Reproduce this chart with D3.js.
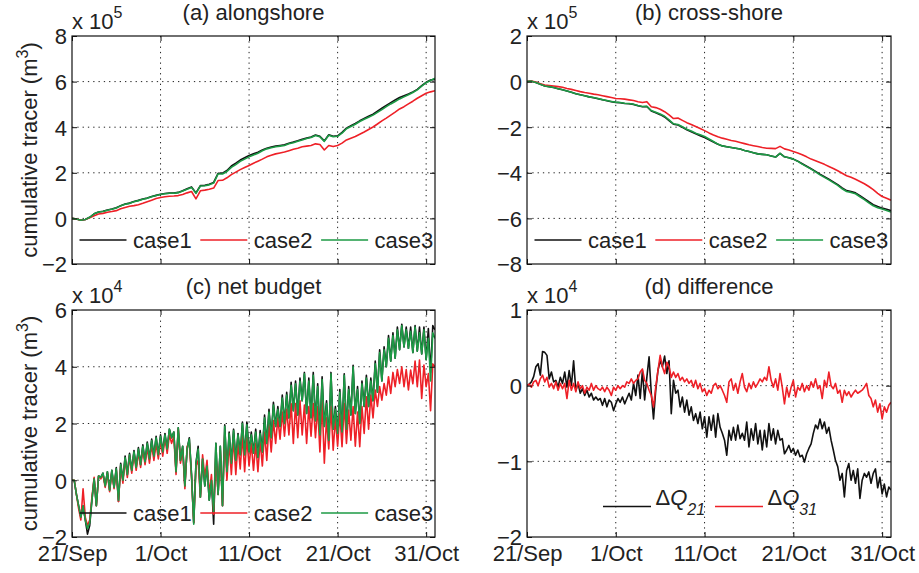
<!DOCTYPE html>
<html>
<head>
<meta charset="utf-8">
<script src="https://cdn.jsdelivr.net/npm/d3@7"></script>
<style>
  body { margin: 0; background: #fff; }
  svg { display: block; font-family: "Liberation Sans", Arial, Helvetica, sans-serif; }
</style>
</head>
<body>
<div id="container"></div>
<script>
const startDay = Date.UTC(2010, 8, 21);
const endDay = Date.UTC(2010, 10, 1);
const xTickDays = [0, 10, 20, 30, 40];

// (a) alongshore, units of 1e5 m3, one value every half day from 21/Sep
const stepAB = 0.5;
const along1 = [
  0, -0.03, -0.08, -0.05, 0.05, 0.2, 0.28, 0.31, 0.37, 0.41,
  0.47, 0.56, 0.63, 0.67, 0.74, 0.79, 0.85, 0.89, 0.96, 1.01,
  1.06, 1.09, 1.11, 1.11, 1.14, 1.21, 1.3, 1.38, 1.12, 1.44,
  1.45, 1.5, 1.58, 1.98, 1.98, 2.1, 2.3, 2.42, 2.56, 2.66,
  2.76, 2.83, 2.9, 3.0, 3.08, 3.13, 3.17, 3.2, 3.23, 3.3,
  3.35, 3.41, 3.47, 3.52, 3.57, 3.66, 3.6, 3.4, 3.67, 3.6,
  3.62, 3.77, 3.96, 4.06, 4.16, 4.28, 4.38, 4.48, 4.57, 4.7,
  4.83, 4.96, 5.08, 5.19, 5.3, 5.38, 5.46, 5.55, 5.66, 5.82,
  5.97, 6.07, 6.1
];
const along2 = [
  0, -0.03, -0.08, -0.05, 0.03, 0.12, 0.19, 0.22, 0.27, 0.3,
  0.34, 0.42, 0.48, 0.53, 0.56, 0.6, 0.66, 0.73, 0.8, 0.87,
  0.92, 0.95, 0.97, 0.98, 1.0, 1.05, 1.12, 1.18, 0.86, 1.21,
  1.24, 1.28, 1.33, 1.66, 1.67, 1.78, 1.92, 2.03, 2.14, 2.23,
  2.32, 2.42, 2.51, 2.6, 2.7, 2.77, 2.83, 2.87, 2.91, 2.97,
  3.03, 3.08, 3.14, 3.17, 3.2, 3.27, 3.24, 3.0, 3.2, 3.15,
  3.2, 3.3, 3.44, 3.52, 3.59, 3.69, 3.79, 3.9, 4.01, 4.14,
  4.28, 4.4, 4.53, 4.66, 4.8, 4.9, 5.02, 5.14, 5.27, 5.38,
  5.49, 5.55, 5.6
];
const along3 = [
  0, -0.03, -0.08, -0.05, 0.05, 0.2, 0.28, 0.3, 0.36, 0.4,
  0.46, 0.55, 0.62, 0.66, 0.73, 0.78, 0.84, 0.88, 0.95, 1.0,
  1.05, 1.08, 1.1, 1.1, 1.13, 1.2, 1.28, 1.36, 1.1, 1.42,
  1.43, 1.47, 1.55, 1.95, 1.95, 2.06, 2.24, 2.36, 2.5, 2.6,
  2.7, 2.78, 2.86, 2.97, 3.05, 3.1, 3.14, 3.17, 3.2, 3.27,
  3.32, 3.38, 3.44, 3.5, 3.55, 3.64, 3.58, 3.38, 3.65, 3.58,
  3.6, 3.74, 3.93, 4.03, 4.13, 4.25, 4.35, 4.44, 4.53, 4.65,
  4.77, 4.9, 5.02, 5.13, 5.24, 5.33, 5.42, 5.52, 5.64, 5.8,
  5.95, 6.05, 6.15
];

// (b) cross-shore, units of 1e5 m3
const cross1 = [
  0, 0.02, -0.04, -0.12, -0.19, -0.22, -0.26, -0.31, -0.36, -0.41,
  -0.47, -0.53, -0.58, -0.62, -0.67, -0.71, -0.75, -0.8, -0.84, -0.88,
  -0.91, -0.93, -0.96, -0.97, -1.0, -1.06, -1.1, -1.09, -1.29, -1.37,
  -1.45, -1.55, -1.71, -1.87, -1.9, -2.0, -2.11, -2.2, -2.29, -2.37,
  -2.45, -2.55, -2.65, -2.75, -2.82, -2.86, -2.89, -2.92, -2.96, -3.02,
  -3.07, -3.12, -3.17, -3.19, -3.21, -3.26, -3.31, -3.15, -3.3, -3.34,
  -3.4, -3.49, -3.6, -3.71, -3.82, -3.94, -4.06, -4.17, -4.28, -4.4,
  -4.52, -4.66, -4.78, -4.82, -4.88, -5.0, -5.13, -5.27, -5.4, -5.48,
  -5.55, -5.6, -5.66
];
const cross2 = [
  0, 0.02, -0.02, -0.09, -0.15, -0.17, -0.19, -0.22, -0.25, -0.3,
  -0.34, -0.39, -0.44, -0.48, -0.51, -0.55, -0.58, -0.62, -0.66, -0.7,
  -0.74, -0.75, -0.77, -0.8, -0.83, -0.88, -0.92, -0.88, -1.1, -1.14,
  -1.21, -1.32, -1.46, -1.62, -1.6, -1.7, -1.8, -1.88, -1.97, -2.06,
  -2.15, -2.25, -2.34, -2.42, -2.48, -2.53, -2.58, -2.62, -2.67, -2.72,
  -2.77, -2.81, -2.85, -2.89, -2.92, -2.93, -2.94, -2.84, -2.95, -3.0,
  -3.07, -3.13, -3.21, -3.3, -3.4, -3.47, -3.55, -3.63, -3.72, -3.81,
  -3.91, -4.02, -4.13, -4.2, -4.28, -4.38, -4.48, -4.6, -4.74, -4.9,
  -5.04, -5.12, -5.2
];
const cross3 = [
  0, 0.02, -0.04, -0.12, -0.19, -0.22, -0.26, -0.31, -0.36, -0.41,
  -0.47, -0.53, -0.58, -0.62, -0.67, -0.7, -0.74, -0.79, -0.83, -0.87,
  -0.9, -0.92, -0.95, -0.96, -0.99, -1.05, -1.09, -1.08, -1.27, -1.34,
  -1.42, -1.52, -1.68, -1.85, -1.88, -1.98, -2.09, -2.17, -2.26, -2.33,
  -2.41, -2.52, -2.63, -2.74, -2.82, -2.86, -2.89, -2.92, -2.96, -3.02,
  -3.07, -3.12, -3.17, -3.19, -3.21, -3.26, -3.31, -3.15, -3.3, -3.34,
  -3.4, -3.5, -3.62, -3.73, -3.84, -3.96, -4.09, -4.2, -4.31, -4.43,
  -4.55, -4.7, -4.82, -4.86, -4.92, -5.05, -5.18, -5.32, -5.45, -5.53,
  -5.59, -5.65, -5.72
];

// (c) net budget, units of 1e4 m3, one value every quarter day (one row per day)
const stepCD = 0.25;
const net1 = [
  0, 0, -0.5, -0.9,   -1.3, -0.9, -1.4, -1.9,   -1.6, -0.7, 0.05, -0.9,
  0.15, 0.1, 0.25, -0.2,   0.3, -0.35, 0.35, -0.25,   0.45, -0.75, 0.6, 0.0,
  0.85, 0.2, 0.95, 0.35,   1.05, 0.45, 1.15, 0.55,   1.25, 0.65, 1.35, 0.75,
  1.45, 0.85, 1.55, 0.9,   1.6, 1.0, 1.65, 1.1,   1.8, 1.5, 1.7, 0.3,
  1.85, 0.7, 1.2, -0.2,   1.1, 1.5, 0.2, -1.5,   0.6, 1.2, -0.6, 0.75,
  -0.2, 0.5, -0.7, 0.0,   -1.55, 1.3, -0.5, 1.2,   -0.9, 1.95, 0.3, 1.7,
  0.6, 1.8, 0.7, 1.65,   0.9, 2.05, 0.9, 2.05,   1.0, 1.7, 0.95, 1.8,
  0.8, 1.75, 1.0, 2.3,   1.3, 2.5, 1.5, 2.75,   1.9, 2.6, 1.9, 3.0,
  2.0, 3.1, 2.2, 3.45,   2.45, 3.5, 2.3, 3.6,   2.8, 3.8, 2.35, 3.6,
  2.2, 3.8, 2.1, 3.4,   1.6, 3.65, 1.9, 2.8,   1.4, 3.8, 1.8, 2.6,
  1.65, 3.2, 1.7, 3.75,   1.8, 3.3, 2.3, 4.05,   2.35, 3.3, 2.0, 3.5,
  2.6, 3.7, 2.6, 3.6,   2.8, 4.2, 3.1, 4.6,   3.5, 4.7, 4.0, 5.1,
  4.2, 5.2, 4.3, 5.4,   4.6, 5.5, 4.7, 5.4,   4.65, 5.4, 4.5, 5.45,
  4.55, 5.4, 4.45, 5.4,   4.25, 5.35, 3.8, 5.45,   5.3
];
const net2 = [
  0, 0, -0.5, -1.0,   -1.4, -0.3, -1.3, -1.6,   -1.4, -0.6, 0.1, -0.9,
  0.15, 0.05, 0.2, -0.25,   0.25, -0.4, 0.3, -0.3,   0.35, -0.75, 0.5, -0.1,
  0.75, 0.1, 0.85, 0.25,   0.95, 0.35, 1.0, 0.45,   1.1, 0.55, 1.15, 0.6,
  1.25, 0.7, 1.3, 0.75,   1.4, 0.85, 1.5, 0.95,   1.6, 1.3, 1.55, 0.2,
  1.8, 0.6, 1.1, -0.3,   1.2, 1.3, 0.1, -1.5,   0.5, 0.7, -0.6, 0.9,
  0.1, 0.7, -0.5, 0.2,   -1.2, 0.9, -0.5, 1.05,   -0.9, 1.6, 0.0, 1.35,
  0.2, 1.5, 0.2, 1.3,   0.4, 1.6, 0.3, 1.5,   0.5, 1.3, 0.35, 1.3,
  0.3, 1.4, 0.5, 1.7,   0.7, 1.95, 1.0, 2.1,   1.3, 2.2, 1.45, 2.4,
  1.55, 2.5, 1.6, 2.7,   1.3, 2.7, 1.5, 2.8,   1.6, 2.65, 1.3, 2.6,
  1.55, 2.7, 1.5, 2.6,   1.0, 2.8, 0.6, 2.2,   1.1, 2.6, 1.06, 2.2,
  1.2, 2.35, 1.18, 2.7,   1.3, 2.47, 1.41, 2.6,   1.2, 2.4, 1.18, 2.6,
  1.65, 2.94, 1.8, 3.0,   2.2, 3.18, 2.6, 3.3,   2.82, 3.41, 3.0, 3.65,
  3.06, 3.8, 3.3, 3.9,   3.41, 4.0, 3.3, 3.9,   3.18, 3.88, 3.4, 4.2,
  3.3, 4.24, 2.88, 4.06,   3.3, 3.76, 2.45, 4.1,   4.0
];
const net3 = [
  0, 0, -0.5, -0.9,   -1.3, -0.9, -1.4, -1.7,   -1.5, -0.7, 0.05, -0.9,
  0.15, 0.1, 0.25, -0.2,   0.3, -0.35, 0.35, -0.25,   0.4, -0.7, 0.55, 0.0,
  0.8, 0.2, 0.9, 0.35,   1.0, 0.45, 1.1, 0.55,   1.2, 0.65, 1.3, 0.75,
  1.4, 0.85, 1.5, 0.9,   1.55, 1.0, 1.6, 1.1,   1.8, 1.5, 1.7, 0.3,
  1.85, 0.7, 1.2, -0.2,   1.1, 1.45, 0.2, -1.55,   0.6, 1.1, -0.6, 0.75,
  -0.2, 0.5, -0.7, 0.0,   -1.1, 1.3, -0.5, 1.2,   -0.9, 1.9, 0.3, 1.65,
  0.6, 1.75, 0.7, 1.6,   0.9, 2.0, 0.9, 1.95,   1.0, 1.6, 0.95, 1.7,
  0.8, 1.65, 1.0, 2.2,   1.3, 2.4, 1.5, 2.65,   1.9, 2.5, 1.9, 2.9,
  2.0, 3.0, 2.2, 3.35,   2.45, 3.4, 2.3, 3.5,   2.8, 3.75, 2.35, 3.5,
  2.2, 3.7, 2.1, 3.3,   1.6, 3.55, 1.9, 2.7,   1.4, 3.75, 1.8, 2.5,
  1.65, 3.1, 1.7, 3.7,   1.8, 3.2, 2.3, 4.0,   2.35, 3.2, 2.0, 3.4,
  2.6, 3.6, 2.6, 3.5,   2.8, 4.1, 3.1, 4.5,   3.5, 4.6, 4.0, 5.0,
  4.2, 5.1, 4.3, 5.3,   4.6, 5.45, 4.7, 5.3,   4.65, 5.25, 4.5, 5.4,
  4.55, 5.2, 4.45, 5.3,   4.25, 5.0, 3.5, 5.2,   5.0
];

// (d) difference, units of 1e4 m3
const dQ21 = [
  0, 0.02, 0.05, 0.12,   0.25, 0.29, 0.14, 0.45,   0.44, 0.4, 0.09, 0.18,
  0.05, 0.07, -0.02, 0.11,   0.03, 0.18, -0.02, 0.2,   0.0, 0.33, -0.06, 0.03,
  -0.1, -0.04, -0.13, -0.06,   -0.15, -0.1, -0.19, -0.15,   -0.19, -0.17, -0.26, -0.17,
  -0.28, -0.19, -0.22, -0.33,   -0.24, -0.17, -0.22, -0.15,   -0.24, -0.17, -0.1, -0.19,
  0.03, -0.13, 0.14, -0.17,   0.2, -0.19, 0.11, 0.38,   -0.1, -0.44, -0.06, 0.2,
  0.33, 0.25, 0.39, 0.16,   0.33, -0.37, 0.07, -0.1,   -0.06, -0.28, -0.15, -0.35,
  -0.19, -0.39, -0.28, -0.46,   -0.37, -0.5, -0.35, -0.57,   -0.41, -0.68, -0.41, -0.59,
  -0.39, -0.68, -0.37, -0.55,   -0.63, -0.72, -0.92, -0.59,   -0.72, -0.55, -0.72, -0.52,
  -0.7, -0.63, -0.72, -0.48,   -0.81, -0.57, -0.72, -0.5,   -0.77, -0.59, -0.85, -0.59,
  -0.81, -0.5, -0.72, -0.57,   -0.77, -0.59, -0.72, -0.7,   -0.9, -0.85, -0.79, -0.88,
  -0.83, -0.92, -0.85, -0.94,   -0.92, -1.01, -0.9, -0.83,   -0.77, -0.63, -0.52, -0.57,
  -0.44, -0.57, -0.48, -0.63,   -0.55, -0.72, -0.85, -0.99,   -1.07, -1.25, -1.16, -1.47,
  -1.12, -1.03, -1.25, -1.12,   -1.29, -1.1, -1.49, -1.25,   -1.16, -1.21, -1.14, -1.29,
  -1.16, -1.1, -1.35, -1.21,   -1.43, -1.3, -1.47, -1.34,   -1.38
];
const dQ31 = [
  0, 0.02, -0.02, 0.05,   0.07, 0, 0.09, 0.14,   0.05, 0.11, -0.02, 0.03,
  -0.04, 0.05, -0.06, 0.03,   -0.04, 0.03, -0.17, 0.07,   -0.06, 0.03, -0.08, 0.05,
  -0.04, 0, -0.1, -0.02,   -0.06, 0.03, -0.06, 0,   -0.04, -0.06, -0.02, -0.08,
  -0.02, -0.06, -0.13, -0.02,   -0.06, 0, -0.04, 0,   -0.02, 0.05, 0.03, 0.09,
  0.03, 0.07, 0.09, 0.18,   0.22, 0.07, 0.03, -0.06,   -0.13, -0.28, -0.02, 0.2,
  0.4, 0.25, 0.16, 0.31,   0.25, 0.11, 0.18, 0.11,   0.16, 0.07, 0.11, 0.05,
  0.09, 0.03, 0.07, -0.02,   0.07, -0.04, 0.03, -0.08,   -0.04, -0.13, -0.06, -0.1,
  0, 0.03, -0.04, 0,   -0.06, -0.13, -0.22, 0.05,   0.09, -0.06, 0.03, -0.1,
  0.05, 0.16, -0.02, -0.08,   0.03, -0.04, 0.05, -0.02,   0.03, 0.09, 0.05, 0.11,
  0.07, 0.25, 0.07, -0.02,   0.09, -0.06, 0.16, -0.02,   -0.24, -0.02, -0.15, -0.02,
  0.07, -0.15, -0.02, -0.06,   0.03, -0.08, 0, -0.06,   0.05, -0.02, 0.09, -0.04,
  0, -0.17, 0.07, -0.02,   0.18, 0, -0.04, 0.03,   -0.1, -0.06, -0.22, -0.06,
  -0.13, -0.08, -0.15, -0.1,   -0.06, -0.1, -0.08, -0.06,   -0.02, 0.03, -0.13, -0.17,
  -0.28, -0.19, -0.35, -0.24,   -0.44, -0.28, -0.35, -0.26,   -0.22
];

const black = '#111111', red = '#ee2027', green = '#1c9a45';

const panels = [
  { left: 72, right: 435, top: 36, bottom: 264, yDomain: [-2, 8], yTicks: [-2, 0, 2, 4, 6, 8],
    title: '(a) alongshore', exp: '5', ylabel: true, xlabels: false, step: stepAB,
    series: [[along1, black], [along2, red], [along3, green]], legend: 'cases' },
  { left: 527, right: 891, top: 36, bottom: 264, yDomain: [-8, 2], yTicks: [-8, -6, -4, -2, 0, 2],
    title: '(b) cross-shore', exp: '5', ylabel: false, xlabels: false, step: stepAB,
    series: [[cross1, black], [cross2, red], [cross3, green]], legend: 'cases' },
  { left: 72, right: 435, top: 310, bottom: 537, yDomain: [-2, 6], yTicks: [-2, 0, 2, 4, 6],
    title: '(c) net budget', exp: '4', ylabel: true, xlabels: true, step: stepCD,
    series: [[net1, black], [net2, red], [net3, green]], legend: 'cases' },
  { left: 527, right: 891, top: 310, bottom: 537, yDomain: [-2, 1], yTicks: [-2, -1, 0, 1],
    title: '(d) difference', exp: '4', ylabel: false, xlabels: true, step: stepCD,
    series: [[dQ21, black], [dQ31, red]], legend: 'dq' }
];

const svg = d3.select('#container')
  .append('svg')
  .attr('width', 919)
  .attr('height', 573);

const dayMs = 864e5;
const fontSize = 22;
const supSize = 16;

panels.forEach((p, pi) => {
  const x = d3.scaleUtc()
    .domain([new Date(startDay), new Date(endDay)])
    .range([p.left, p.right]);
  const y = d3.scaleLinear().domain(p.yDomain).range([p.bottom, p.top]);
  const g = svg.append('g');

  // clip for the data lines
  g.append('clipPath').attr('id', 'clip' + pi)
    .append('rect')
    .attr('x', p.left).attr('y', p.top)
    .attr('width', p.right - p.left).attr('height', p.bottom - p.top);

  // dotted grid
  const tickDates = xTickDays.map(d => new Date(startDay + d * dayMs));
  g.selectAll('.vgrid')
    .data(tickDates.slice(1))
    .enter().append('line')
    .attr('x1', d => x(d)).attr('x2', d => x(d))
    .attr('y1', p.top).attr('y2', p.bottom)
    .attr('stroke', '#222').attr('stroke-width', 1)
    .attr('stroke-dasharray', '1.3,4');
  g.selectAll('.hgrid')
    .data(p.yTicks.filter(v => v !== p.yDomain[0] && v !== p.yDomain[1]))
    .enter().append('line')
    .attr('x1', p.left).attr('x2', p.right)
    .attr('y1', d => y(d)).attr('y2', d => y(d))
    .attr('stroke', '#222').attr('stroke-width', 1)
    .attr('stroke-dasharray', '1.3,4');

  // data lines
  const line = d3.line()
    .x((d, i) => x(new Date(startDay + i * p.step * dayMs)))
    .y(d => y(d));
  const lg = g.append('g').attr('clip-path', `url(#clip${pi})`);
  p.series.forEach(([vals, col]) => {
    lg.append('path')
      .attr('d', line(vals))
      .attr('fill', 'none')
      .attr('stroke', col)
      .attr('stroke-width', 1.6)
      .attr('stroke-linejoin', 'round');
  });

  // axes with inward ticks
  const fmt = d3.utcFormat('%-d/%b');
  const xb = g.append('g')
    .attr('transform', `translate(0,${p.bottom})`)
    .call(d3.axisBottom(x).tickValues(tickDates).tickSize(-5).tickSizeOuter(0).tickPadding(9)
      .tickFormat(p.xlabels ? fmt : () => ''));
  g.append('g')
    .attr('transform', `translate(0,${p.top})`)
    .call(d3.axisTop(x).tickValues(tickDates).tickSize(-5).tickSizeOuter(0).tickFormat(() => ''));
  const yl = g.append('g')
    .attr('transform', `translate(${p.left},0)`)
    .call(d3.axisLeft(y).tickValues(p.yTicks).tickSize(-5).tickSizeOuter(0).tickPadding(5)
      .tickFormat(d3.format('d')));
  g.append('g')
    .attr('transform', `translate(${p.right},0)`)
    .call(d3.axisRight(y).tickValues(p.yTicks).tickSize(-5).tickSizeOuter(0).tickFormat(() => ''));

  g.selectAll('.domain').remove();
  g.selectAll('.tick line').attr('stroke', '#111');
  g.selectAll('.tick text')
    .attr('font-family', '"Liberation Sans", Arial, sans-serif')
    .attr('font-size', fontSize)
    .attr('fill', '#222');
  yl.selectAll('.tick text').attr('dy', '0.36em');
  xb.selectAll('.tick text').attr('dy', '0.68em');

  // frame
  g.append('rect')
    .attr('x', p.left).attr('y', p.top)
    .attr('width', p.right - p.left).attr('height', p.bottom - p.top)
    .attr('fill', 'none').attr('stroke', '#111').attr('stroke-width', 1.2);

  // title
  g.append('text')
    .attr('x', (p.left + p.right) / 2)
    .attr('y', p.top - 16.5)
    .attr('text-anchor', 'middle')
    .attr('font-size', fontSize)
    .attr('fill', '#222')
    .text(p.title);

  // exponent label
  const ex = g.append('text')
    .attr('x', p.left)
    .attr('y', p.top - 7.5)
    .attr('font-size', fontSize)
    .attr('fill', '#222');
  ex.append('tspan').text('x 10');
  ex.append('tspan').attr('font-size', supSize).attr('dy', -11).text(p.exp);

  // y label
  if (p.ylabel) {
    const t = g.append('text')
      .attr('transform', `translate(37,${(p.top + p.bottom) / 2}) rotate(-90)`)
      .attr('text-anchor', 'middle')
      .attr('font-size', fontSize)
      .attr('fill', '#222');
    t.append('tspan').text('cumulative tracer (m');
    t.append('tspan').attr('font-size', supSize).attr('dy', -9).text('3');
    t.append('tspan').attr('dy', 9).text(')');
  }

  // legend (no box)
  if (p.legend === 'cases') {
    const names = ['case1', 'case2', 'case3'];
    const ly = p.bottom - 24;
    p.series.forEach(([, col], i) => {
      const lx = p.left + 7.5 + i * 120.8;
      g.append('line')
        .attr('x1', lx).attr('x2', lx + 47)
        .attr('y1', ly).attr('y2', ly)
        .attr('stroke', col).attr('stroke-width', 1.6);
      g.append('text')
        .attr('x', lx + 53.5).attr('y', ly + 8)
        .attr('font-size', fontSize).attr('fill', '#222')
        .text(names[i]);
    });
  } else {
    const subs = ['21', '31'];
    const ly = p.bottom - 30.5;
    p.series.forEach(([, col], i) => {
      const lx = p.left + 76 + i * 112;
      g.append('line')
        .attr('x1', lx).attr('x2', lx + 48)
        .attr('y1', ly).attr('y2', ly)
        .attr('stroke', col).attr('stroke-width', 1.6);
      const t = g.append('text')
        .attr('x', lx + 52.5).attr('y', ly - 2)
        .attr('font-size', fontSize).attr('fill', '#222');
      t.append('tspan').text('\u0394');
      t.append('tspan').attr('font-style', 'italic').text('Q');
      t.append('tspan').attr('font-style', 'italic').attr('font-size', supSize).attr('dy', 10).text(subs[i]);
    });
  }
});
</script>
</body>
</html>
